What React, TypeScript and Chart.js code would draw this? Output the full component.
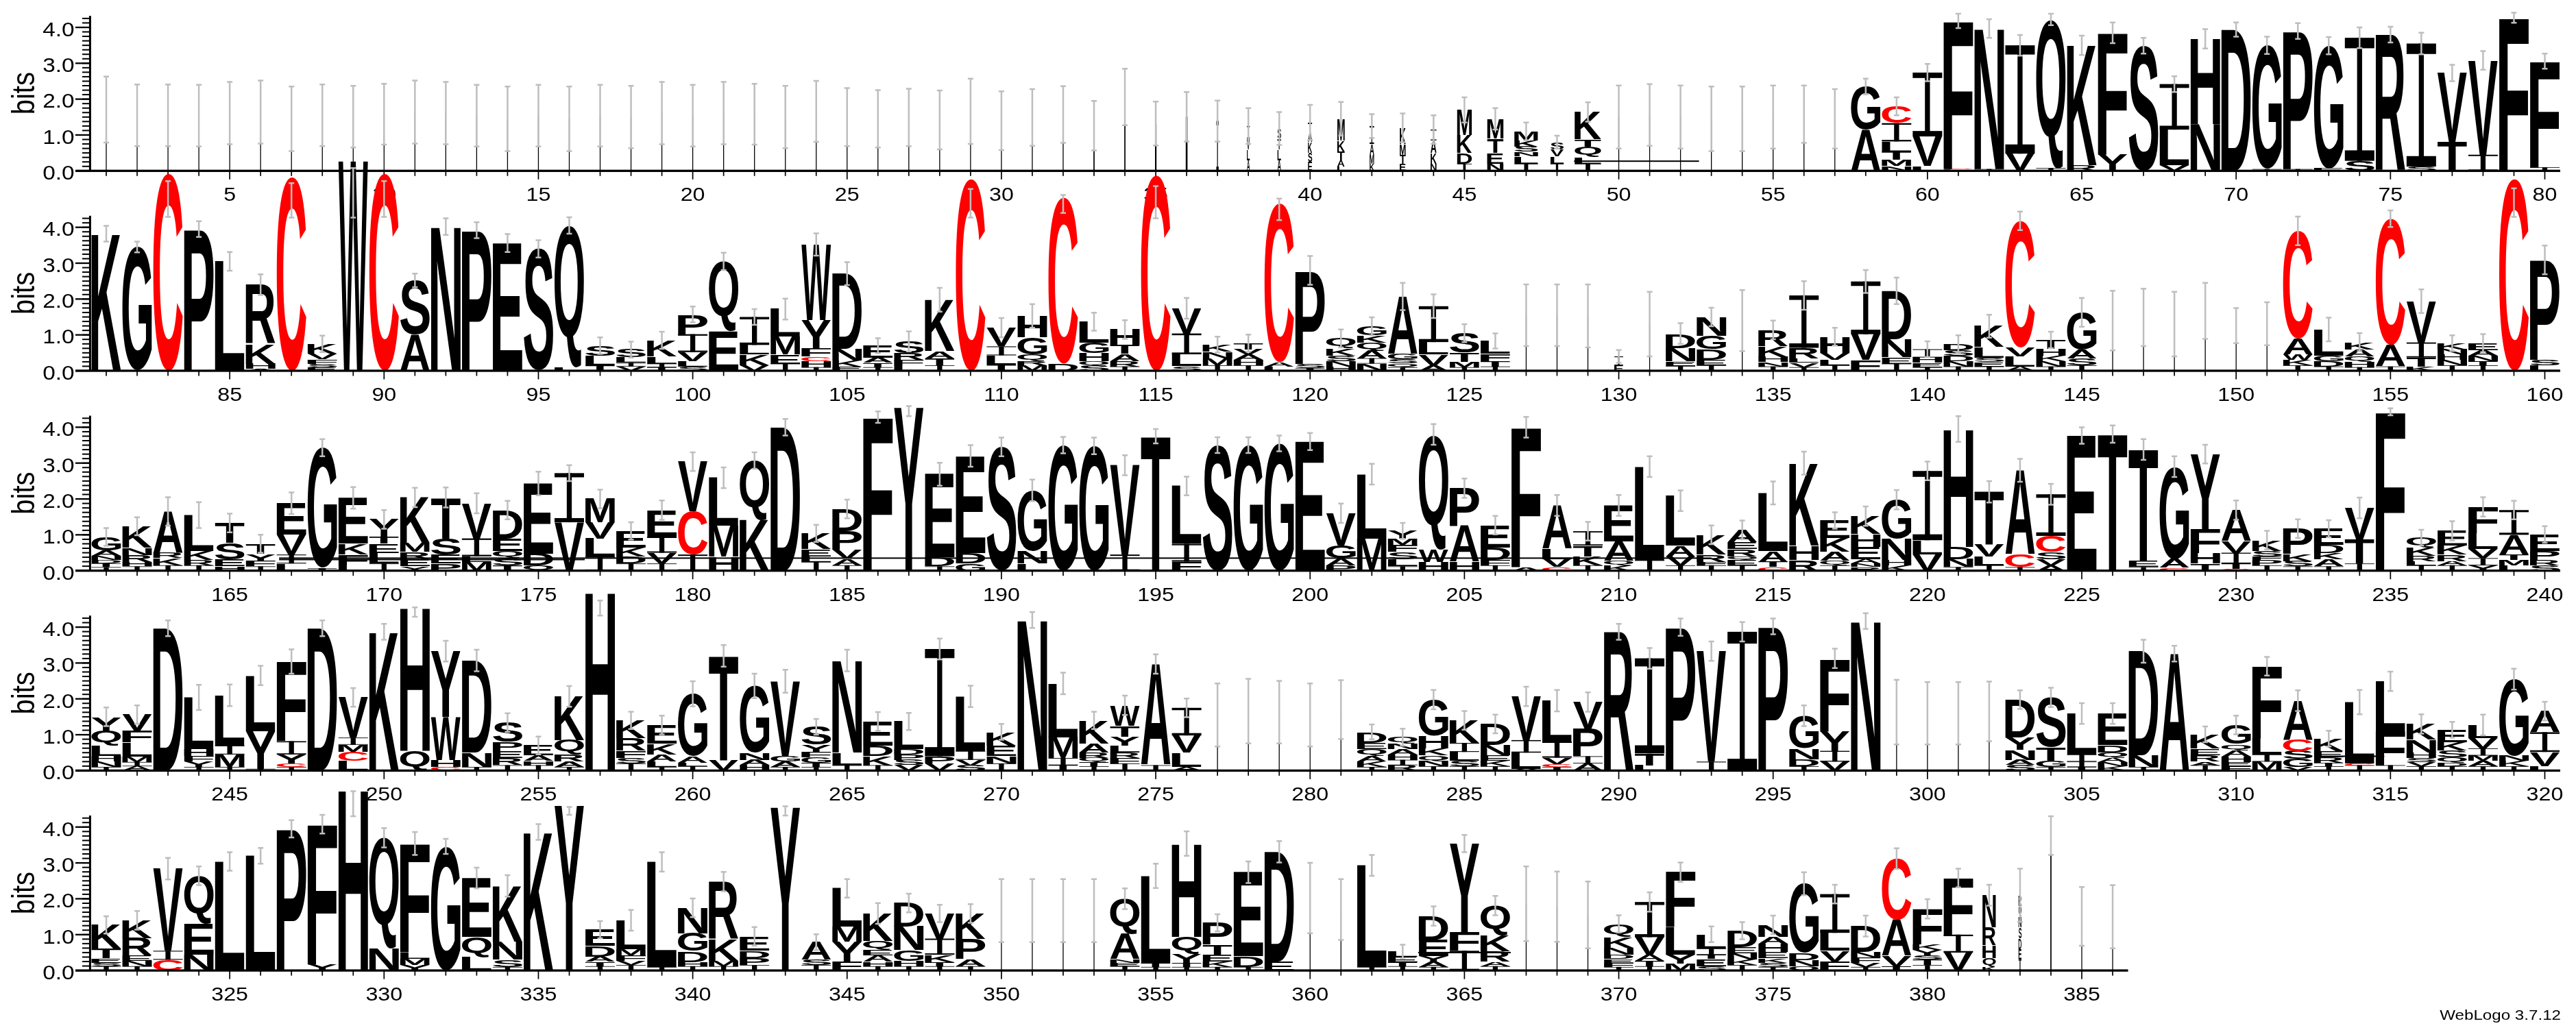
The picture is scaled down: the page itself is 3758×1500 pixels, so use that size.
import React, { useEffect, useRef } from "react";
import { Chart, registerables } from "chart.js";

Chart.register(...registerables);

// ---------------- DATA ----------------
// Each entry is one sequence position. Format: [wF:]L1h1 L2h2 .../err[@centre]
//   letters bottom-to-top with their height in bits, wF = stack width fraction,
//   err = error-bar half length (bits), centre defaults to the stack top.
const ROW1_STACKS = [
  "w.03:I1.71/0.92", "w.03:I1.55/0.86", "w.03:I1.55/0.86", "w.03:I1.54/0.86", "w.03:I1.61/0.87",
  "w.03:I1.64/0.88", "w.03:I1.45/0.9", "w.03:I1.55/0.86", "w.03:I1.51/0.86", "w.03:I1.58/0.85",
  "w.03:I1.64/0.88", "w.03:I1.61/0.87", "w.03:I1.54/0.86", "w.03:I1.45/0.9", "w.03:I1.54/0.86",
  "w.03:I1.45/0.9", "w.03:I1.54/0.86", "w.03:I1.5/0.87", "w.03:I1.61/0.87", "w.03:I1.54/0.86",
  "w.03:I1.61/0.87", "w.03:I1.58/0.85", "w.03:I1.5/0.87", "w.03:I1.66/0.85", "w.03:I1.5/0.81",
  "w.03:I1.45/0.8", "w.03:I1.49/0.8", "w.03:I1.42/0.82", "w.03:I1.66/0.91", "w.03:I1.4/0.82",
  "w.03:I1.49/0.79", "w.03:I1.57/0.79", "w.04:I1.26/0.69", "w.04:I2.06/0.79", "w.05:I1.32/0.61",
  "w.06:I1.51/0.69", "w.08:I1.39/0.57", "w.1:A0.3 L0.3 V0.3 I0.35/0.5", "w.12:A0.3 L0.3 T0.3 S0.28/0.46", "w.14:E0.25 S0.25 K0.3 A0.3 T0.25/0.49",
  "w.25:L0.12 A0.18 T0.25 K0.3 M0.6/0.47", "w.15:K0.2 M0.25 A0.3 I0.5/0.33", "w.2:E0.2 T0.25 M0.3 K0.45/0.4", "w.2:N0.2 K0.3 A0.35 I0.3/0.4", "w.5:I0.2 D0.3 K0.5 M0.7/0.35",
  "w.55:N0.2 E0.3 T0.4 M0.55/0.3", "w.8:I0.2 L0.2 N0.13 S0.15 K0.17 M0.25/0.25", "w.45:I0.2 L0.2 V0.2 S0.2/0.18", "w.9:I0.2 L0.18 Q0.3 T0.2 K0.76/0.27", "w.03:I1.5/0.88",
  "w.03:I1.56/0.86", "w.03:I1.5/0.88", "w.03:I1.45/0.9", "w.03:I1.45/0.9", "w.03:I1.5/0.88",
  "w.03:I1.58/0.8", "w.03:I1.45/0.83", "A1.15 G1.2/0.22", "N0.13 M0.18 T0.22 L0.29 I0.51 C0.47/0.25", "L0.13 V0.83 I1.78/0.24",
  "C0.05 F4.13/0.2", "I0.05 N3.92/0.26", "V0.48 I3.02/0.29", "I0.08 Q4.14/0.16", "R0.15 K3.35/0.27",
  "Y0.45 F3.4/0.29", "S3.49/0.22", "V0.15 L1.0 I1.27/0.22", "N1.3 H2.38/0.27", "D3.94/0.2",
  "I0.05 G3.45/0.24", "I0.05 P3.85/0.22", "E0.06 G3.43/0.24", "S0.28 I3.43/0.29", "R3.8/0.22",
  "S0.12 I3.43/0.3", "T0.8 V1.93/0.23", "I0.45 V2.63/0.26", "F4.27/0.14", "I0.1 F2.96/0.21",
];

const ROW2_STACKS = [
  "K3.82/0.22", "G3.45/0.15", "C5.5/0.5@4.79", "P3.95/0.22", "L3.05/0.26",
  "A0.05 H0.15 K0.55 R1.65/0.29", "C5.4/0.48@4.75", "E0.1 S0.1 F0.12 V0.15 K0.28/0.23", "W5.85/0.69@4.96", "C5.5/0.5@4.79",
  "A1.02 S1.5/0.19", "N4.02/0.23", "P3.92/0.22", "E3.56/0.25", "S3.4/0.24",
  "L0.1 Q3.95/0.23", "T0.15 L0.27 S0.28/0.23", "V0.12 I0.1 L0.15 S0.22/0.22", "T0.1 I0.1 L0.2 K0.45/0.24", "S0.12 L0.15 V0.25 I0.5 P0.55/0.22",
  "E1.1 Q1.95/0.24", "V0.15 K0.3 L0.27 I0.78/0.22", "I0.2 E0.25 M0.5 L0.77/0.29", "I0.1 H0.17 C0.13 F0.22 Y0.8 W2.1/0.31", "E0.12 K0.16 N0.33 D2.1/0.32",
  "I0.1 T0.12 A0.15 E0.33/0.21", "L0.15 F0.15 R0.2 S0.32/0.28", "I0.15 T0.2 A0.2 K1.43/0.33", "C5.35/0.4@4.67", "T0.18 L0.25 I0.25 V0.52/0.27",
  "M0.15 R0.12 Q0.18 G0.48 H0.6/0.33", "D0.2 C4.63/0.25@4.65", "S0.15 Q0.12 H0.22 G0.3 L0.58/0.25", "I0.12 R0.15 A0.2 T0.25 H0.43/0.26", "C5.45/0.45@4.7",
  "S0.13 L0.33 I0.58 V0.7/0.29", "I0.15 M0.2 N0.18 K0.2/0.22", "I0.15 H0.15 A0.15 V0.15 T0.17/0.24", "L0.12 A0.12 C4.43/0.3@4.5", "T0.08 S0.12 P2.6/0.4",
  "H0.12 N0.15 S0.15 K0.2 Q0.28/0.25", "N0.2 I0.15 A0.22 Q0.22 K0.2 G0.25/0.25", "I0.1 Q0.1 S0.12 G0.15 A1.6/0.38", "A0.15 V0.3 L0.35 I1.0/0.33", "I0.1 M0.15 T0.25 S0.55/0.25",
  "I0.12 T0.15 F0.2 L0.36/0.21", "w.03:I1.55/0.86", "w.03:I1.55/0.86", "w.03:I1.53/0.88", "w.3:E0.15 I0.25/0.18",
  "w.03:I1.3/0.9", "I0.13 E0.13 N0.38 D0.4/0.29", "I0.15 E0.15 D0.3 G0.38 N0.52/0.26", "w.03:I1.4/0.85", "I0.12 N0.12 H0.15 K0.3 R0.45/0.26",
  "I0.1 V0.12 L0.12 R0.3 I1.46/0.4", "I0.15 L0.15 V0.2 H0.45/0.25", "F0.3 V0.72 I1.47/0.32", "I0.2 E0.18 N0.5 D1.35/0.37", "I0.1 E0.12 H0.15 I0.23/0.22",
  "I0.12 N0.15 D0.15 S0.15 D0.18/0.24", "I0.12 E0.12 S0.12 L0.3 K0.58/0.32", "A0.12 L0.28 V0.25 C3.53/0.26", "I0.12 N0.15 K0.15 H0.2 T0.24/0.23", "I0.15 S0.2 A0.25 G1.03/0.4",
  "w.03:I1.4/0.83", "w.03:I1.49/0.8", "w.03:I1.3/0.9", "w.03:I1.67/0.78", "w.03:I1.26/0.49",
  "w.03:I1.31/0.6", "I0.15 K0.15 W0.15 A0.45 C3.0/0.4", "I0.12 D0.15 G0.15 L0.73/0.33", "I0.1 H0.15 Q0.15 A0.2 K0.2/0.25", "I0.12 A0.6 C3.52/0.23",
  "K0.12 T0.25 I0.42 V1.15/0.33", "I0.15 N0.15 H0.15 N0.15 K0.17/0.22", "I0.15 T0.12 N0.15 A0.15 E0.2/0.25", "C5.35/0.4@4.69", "L0.15 S0.15 P2.79/0.4",
];

const ROW3_STACKS = [
  "I0.1 T0.1 D0.1 N0.12 A0.15 G0.37/0.25", "I0.12 H0.12 R0.2 N0.2 K0.6/0.25", "I0.15 K0.2 R0.15 A1.15/0.4", "I0.15 R0.15 K0.25 L1.0/0.36", "H0.12 E0.2 S0.45 T0.56/0.26",
  "I0.12 F0.15 Y0.2 T0.28/0.25", "L0.2 I0.25 V0.55 E0.88/0.3", "T0.08 G3.35/0.24", "L0.15 F0.3 K0.3 E1.28/0.3", "I0.2 L0.3 E0.25 T0.2 Y0.48/0.26",
  "Y0.12 E0.2 R0.2 M0.25 K1.27/0.27", "P0.2 E0.25 S0.45 T1.14/0.28", "M0.25 L0.15 I0.5 V0.98/0.28", "T0.15 S0.2 Q0.2 E0.35 D0.79/0.26", "Q0.15 D0.33 E1.95/0.33",
  "V1.35 I1.37/0.22", "I0.4 L0.5 V0.45 M0.65/0.26", "I0.2 D0.2 K0.25 E0.46/0.24", "I0.2 V0.3 I0.45 E0.74/0.27", "I0.45 C1.2 V1.39/0.26",
  "H0.4 M0.85 L1.34/0.29", "K1.42 Q1.65/0.23", "D4.0/0.23", "I0.25 L0.15 E0.2 K0.44/0.24", "I0.15 A0.18 V0.25 P0.52 D0.62/0.26",
  "F4.28/0.16", "Y4.55/0.14@4.45", "I0.12 D0.25 E2.32/0.32", "G0.2 D0.3 E2.7/0.3", "S3.45/0.26",
  "L0.2 N0.35 G1.69/0.3", "G3.5/0.23", "G3.48/0.23", "I0.45 V2.49/0.28", "T3.75/0.2",
  "F0.25 I0.5 L1.61/0.26", "S3.5/0.22", "G3.5/0.22", "G3.55/0.22", "E3.6/0.24",
  "P0.15 A0.2 G0.35 V0.9/0.27", "M0.9 L1.79/0.29", "I0.12 L0.2 S0.2 F0.2 M0.17 Y0.22/0.22", "H0.25 W0.35 Q3.2/0.29", "H0.25 A1.0 P1.05/0.27",
  "I0.15 F0.15 D0.35 E0.62/0.26", "A0.1 F3.9/0.29", "C0.1 V0.22 L0.3 A1.2/0.29", "I0.15 K0.25 T0.3 I0.4/0.26", "K0.15 Q0.12 A0.55 E1.0/0.29",
  "I0.3 L2.6/0.29", "I0.15 V0.25 A0.3 L1.4/0.29@1.95", "I0.15 F0.1 R0.2 K0.55/0.26", "I0.15 E0.15 Q0.1 R0.2 E0.2 A0.34/0.26", "C0.1 T0.15 A0.3 L1.62/0.32",
  "R0.3 H0.4 K2.3/0.32", "I0.15 Q0.12 A0.25 K0.4 E0.48/0.23", "R0.1 N0.1 A0.12 E0.35 H0.35 K0.5/0.27", "K0.15 H0.15 N0.6 G1.08/0.27", "V0.45 L0.4 I1.93/0.26",
  "I0.1 N0.22 D0.35 H3.28/0.36", "I0.15 L0.25 V0.33 T1.47/0.3", "I0.1 C0.35 A2.35/0.32", "A0.15 V0.17 S0.2 C0.45 I1.16/0.29", "E3.77/0.23",
  "T3.81/0.24", "I0.1 E0.18 T3.1/0.29", "C0.08 A0.25 G2.57/0.29", "T0.2 H0.3 F0.65 Y2.1/0.26", "C0.05 T0.15 I0.3 V0.32 A0.87/0.27",
  "I0.15 P0.15 F0.1 S0.15 K0.3/0.26", "I0.12 S0.15 K0.2 P0.7/0.26", "I0.12 A0.2 K0.18 D0.22 E0.45/0.24", "I0.2 T0.65 V0.9/0.29", "F4.43/0.1",
  "I0.15 L0.12 R0.15 K0.22 Q0.28/0.22", "I0.15 A0.12 R0.18 K0.25 E0.41/0.27", "Y0.15 I0.2 V0.25 L0.45 F0.73/0.27", "L0.15 M0.15 T0.15 A0.55 I0.69/0.26", "S0.15 R0.15 P0.25 E0.46/0.23",
];

const ROW4_STACKS = [
  "I0.1 N0.15 H0.15 L0.3 Q0.4 Y0.4/0.26", "A0.12 I0.12 M0.15 L0.4 F0.32 V0.45/0.26", "D3.97/0.22", "I0.1 Y0.15 F0.15 H0.2 L1.44/0.35", "I0.1 M0.35 I0.25 L1.4/0.3",
  "I0.05 Y1.05 L1.55/0.27", "I0.1 C0.1 Y0.25 I0.37 F2.22/0.34", "D3.97/0.22", "L0.27 C0.25 M0.2 I0.2 V1.12/0.26", "K3.87/0.22",
  "Q0.55 H4.0/0.13@4.42", "C0.1 H0.2 W1.2 Y1.83/0.29", "I0.1 N0.4 D2.57/0.3", "I0.15 R0.2 E0.2 P0.25 S0.54/0.26", "I0.15 H0.12 A0.15 E0.28/0.25",
  "I0.1 A0.15 R0.2 Q0.4 K1.22/0.29", "H4.98/0.21@4.53", "I0.2 S0.15 F0.2 R0.35 K0.5/0.24", "I0.1 L0.15 A0.2 K0.3 E0.52/0.26", "I0.12 L0.1 A0.18 G1.74/0.35",
  "V0.3 T2.9/0.3", "H0.15 A0.15 N0.2 G1.86/0.34", "I0.1 A0.15 G0.15 V2.09/0.32", "I0.1 T0.12 G0.15 F0.15 Y0.2 S0.5/0.22", "I0.15 L0.35 N2.57/0.3",
  "I0.15 K0.25 D0.3 E0.67/0.26", "V0.15 S0.15 P0.15 D0.15 L0.77/0.24", "V0.2 P0.2 I2.99/0.29", "S0.15 V0.15 I0.25 L1.52/0.3", "I0.2 N0.2 E0.3 K0.38/0.22",
  "N4.2/0.22", "T0.15 I0.2 M0.58 L1.5/0.3", "I0.12 T0.12 Q0.12 R0.15 A0.25 K0.64/0.24", "I0.2 F0.15 R0.15 L0.2 Y0.25 T0.3 W0.57/0.27", "I0.15 A2.82/0.27",
  "A0.1 L0.4 V0.48 I0.77/0.26", "w.03:I1.55/0.88", "w.03:I1.66/0.9", "w.03:I1.63/0.87", "w.03:I1.55/0.88",
  "w.03:I1.7/0.82", "I0.1 K0.15 A0.15 Q0.2 E0.18 D0.3/0.21", "R0.15 I0.15 H0.15 A0.15 N0.15 Q0.18/0.24", "I0.12 N0.15 Q0.15 K0.2 H0.35 G1.01/0.27", "I0.12 S0.15 L0.25 I0.25 K0.63/0.26",
  "I0.12 K0.15 E0.15 N0.3 D0.58/0.26", "V0.05 L0.45 I0.35 V1.22/0.27", "T0.1 C0.08 V0.18 I0.45 L1.14/0.3", "A0.2 I0.2 P0.75 V0.76/0.27", "R3.87/0.22",
  "L0.15 T0.33 I2.65/0.29", "P4.0/0.24", "I0.25 V3.08/0.27", "I3.87/0.27", "P4.02/0.22",
  "I0.12 D0.2 N0.3 G0.91/0.29", "V0.25 I0.3 Y0.55 F2.03/0.27", "N4.17/0.22", "w.03:I1.63/0.9", "w.03:I1.6/0.87",
  "w.03:I1.6/0.87", "w.03:I1.65/0.83", "S0.15 A0.15 N0.28 Y0.35 D1.05/0.26", "I0.1 G0.18 T0.38 S1.38/0.27", "T0.1 I0.15 I0.2 L1.14/0.29",
  "K0.12 N0.12 A0.12 Q0.15 D0.2 E0.88/0.29", "I0.1 N0.32 D2.91/0.32", "A3.26/0.22", "I0.15 A0.1 R0.18 E0.18 K0.4/0.22", "F0.12 E0.12 H0.15 A0.18 Q0.17 G0.53/0.26",
  "M0.25 I0.2 L0.45 F2.01/0.26", "V0.1 G0.22 S0.22 C0.32 A1.09/0.29", "I0.12 T0.1 R0.15 E0.18 K0.34/0.22", "I0.15 C0.05 L1.71/0.34", "I0.15 F0.95 L1.39/0.27",
  "I0.12 V0.12 S0.12 H0.15 N0.35 K0.44/0.27", "I0.12 D0.1 Q0.15 S0.2 K0.22 E0.35/0.22", "I0.12 A0.15 M0.15 I0.2 V0.28 L0.37/0.29", "I0.12 K0.15 N0.15 G2.13/0.29", "L0.12 V0.4 I0.55 A0.59/0.26",
];

const ROW5_STACKS = [
  "I0.12 S0.1 E0.12 T0.28 K0.65/0.24", "I0.12 N0.15 E0.15 R0.48 K0.5/0.26", "C0.3 I0.25 V2.29/0.3", "N0.45 E0.85 Q1.34/0.26", "L3.04/0.26",
  "L3.2/0.22", "P3.95/0.24", "Y0.17 F3.91/0.26", "H5.04/0.35@4.65", "N0.62 Q3.08/0.27",
  "Y0.15 M0.17 L0.18 F3.04/0.32", "G3.46/0.21", "L0.38 Q0.55 E1.65/0.29", "I0.1 S0.2 N0.5 K1.56/0.3", "K3.86/0.22",
  "Y4.6/0.11@4.45", "I0.12 T0.12 A0.15 D0.3 E0.45/0.24", "I0.15 V0.12 F0.15 M0.18 L0.8/0.29", "I0.1 L2.93/0.27", "I0.12 H0.12 D0.3 G0.5 N0.71/0.26",
  "I0.12 M0.15 K0.6 R1.61/0.27", "I0.15 P0.2 D0.2 E0.4/0.26", "Y4.55/0.13@4.45", "I0.15 S0.15 A0.49/0.22", "F0.25 Y0.55 M0.42 L1.07/0.26",
  "I0.12 H0.12 A0.18 E0.15 Q0.25 K0.77/0.29", "I0.12 H0.15 G0.3 N0.65 D0.66/0.26", "I0.12 T0.12 K0.2 I0.45 V0.7/0.24", "I0.12 A0.2 P0.57 K0.7/0.26", "w.03:I1.67/0.88",
  "w.03:I1.67/0.88", "w.03:I1.67/0.88", "w.03:I1.67/0.88", "I0.12 E0.1 N0.1 A0.7 Q0.98/0.29", "I0.1 T0.12 L2.42/0.34",
  "I0.1 T0.12 Y0.25 Q0.47 H2.6/0.34", "I0.1 K0.15 E0.2 T0.27 P0.61/0.24", "I0.1 D0.3 E2.34/0.3", "E0.25 D3.06/0.3", "w.03:I2.02/0.98",
  "w.03:I1.7/0.85", "I0.1 L2.83/0.29", "I0.12 T0.12 E0.15 L0.14/0.19", "I0.1 A0.15 Y0.15 E0.45 D0.67/0.27", "I0.55 F0.52 Y2.47/0.24",
  "I0.12 A0.12 R0.3 K0.45 Q0.82/0.27", "w.03:I1.86/1.04", "w.03:I1.78/0.98", "w.03:I1.55/0.93", "I0.1 F0.12 E0.1 D0.12 N0.2 K0.3 Q0.36/0.24",
  "I0.12 T0.15 A0.18 V0.48 I0.98/0.27", "M0.2 Y0.25 L0.75 F1.54/0.27", "S0.12 E0.2 T0.12 I0.17 L0.4/0.22", "I0.15 K0.15 N0.18 E0.18 D0.45/0.24", "I0.1 S0.12 K0.12 E0.18 H0.22 A0.2 N0.33/0.26",
  "Q0.12 N0.17 D0.2 G1.93/0.32", "F0.25 V0.3 L0.5 I1.08/0.26", "I0.1 V0.12 F0.15 N0.15 D0.72/0.29", "T0.12 V0.3 A1.0 C1.7/0.29", "I0.15 T0.15 S0.13 Y0.15 K0.15 F0.99/0.27",
  "V0.5 I0.5 F1.58/0.26", "w.45:K0.1 Q0.25 H0.35 R0.5 N0.9/0.29", "w.1:I0.3 E0.3 D0.3 S0.3 N0.3 Q0.3 R0.3/0.74", "w.04:I3.76/0.54", "w.03:I1.51/0.82",
  "w.03:I1.5/0.88",
];

// Rendering artefacts of near-zero-height glyphs: [from position, to position, height in bits]
const SMEAR_LINES = [
  [48.55, 52.6, 0.27],
  [166.6, 213.0, 0.35],
  [166.6, 176.5, 0.31],
  [312.6, 314.8, 0.4],
  [363.5, 366.5, 0.5],
];

const ROWS = [ROW1_STACKS, ROW2_STACKS, ROW3_STACKS, ROW4_STACKS, ROW5_STACKS];
const ROW_STARTS = [1, 81, 161, 241, 321];
const LAST_POSITION = 386;
const POSITIONS_PER_ROW = 80;
const X_TICK_STEP = 5;
const Y_TICK_VALUES = [0, 1, 2, 3, 4];
const Y_MINOR_STEP = 0.125;
const MAX_BITS = 4.3219;
const Y_TITLE = "bits";
const FOOTER = "WebLogo 3.7.12";

// ---------------- LAYOUT / STYLE ----------------
const PAGE_W = 3758;
const PAGE_H = 1500;
const BASE0 = 249.3;
const ROW_STEP = 291.7;
const PX_PER_BIT = 52.33;
const ABOVE = 330;
const BELOW = 90;
const PLOT_RIGHT = 3735;
const PLOT_LEFT = 132.5;
const AXIS_EXT_LEFT = 110;
const TEXT_STRETCH = 1.15;
const FONT = '"Liberation Sans", Arial, Helvetica, sans-serif';
const GLYPH_FONT = 'bold 200px "Liberation Sans", Arial, Helvetica, sans-serif';
const ERR_COLOR = "rgb(190,190,190)";
const LETTER_FILL = 0.955;

type Letter = { ch: string; h: number };
type Stack = { w: number; letters: Letter[]; total: number; e: number; c: number };

function parseStack(s: string): Stack {
  let w = 1;
  let rest = s;
  if (rest.startsWith("w")) {
    const i = rest.indexOf(":");
    w = parseFloat(rest.slice(1, i));
    rest = rest.slice(i + 1);
  }
  const [lettersPart, errPart] = rest.split("/");
  const letters = lettersPart
    .trim()
    .split(/\s+/)
    .map((t) => ({ ch: t[0], h: parseFloat(t.slice(1)) }));
  const total = letters.reduce((a, l) => a + l.h, 0);
  let e = 0;
  let c = total;
  if (errPart) {
    const [ee, cc] = errPart.split("@");
    e = parseFloat(ee);
    if (cc) c = parseFloat(cc);
  }
  return { w, letters, total, e, c };
}

const glyphCache = new Map<string, { l: number; r: number; a: number; d: number }>();
function glyphBox(ctx: CanvasRenderingContext2D, ch: string) {
  let g = glyphCache.get(ch);
  if (!g) {
    ctx.save();
    ctx.font = GLYPH_FONT;
    const m = ctx.measureText(ch);
    ctx.restore();
    g = { l: m.actualBoundingBoxLeft, r: m.actualBoundingBoxRight, a: m.actualBoundingBoxAscent, d: m.actualBoundingBoxDescent };
    glyphCache.set(ch, g);
  }
  return g;
}

function drawLetter(ctx: CanvasRenderingContext2D, ch: string, x0: number, yTop: number, w: number, h: number) {
  if (h < 0.2) return;
  ctx.fillStyle = ch === "C" ? "#FF0000" : "#000000";
  if (w < 3) {
    ctx.fillRect(x0, yTop, Math.max(w, 1.2), h);
    return;
  }
  if (ch === "I") {
    // serifed I-beam, as in the logo font
    const cap = Math.min(Math.max(h * 0.085, 0.8), h / 3);
    ctx.fillRect(x0, yTop, w, cap);
    ctx.fillRect(x0, yTop + h - cap, w, cap);
    const sw = Math.max(w * 0.17, 1.2);
    ctx.fillRect(x0 + (w - sw) / 2, yTop, sw, h);
    return;
  }
  const g = glyphBox(ctx, ch);
  ctx.save();
  ctx.translate(x0, yTop);
  ctx.scale(w / (g.l + g.r), h / (g.a + g.d));
  ctx.font = GLYPH_FONT;
  ctx.textAlign = "left";
  ctx.textBaseline = "alphabetic";
  ctx.fillText(ch, g.l, g.a);
  ctx.restore();
}

function stretchedText(ctx: CanvasRenderingContext2D, text: string, x: number, y: number, size: number, align: CanvasTextAlign, rotate = false) {
  ctx.save();
  ctx.translate(x, y);
  ctx.scale(TEXT_STRETCH, 1);
  if (rotate) ctx.rotate(-Math.PI / 2);
  ctx.font = `${size}px ${FONT}`;
  ctx.textAlign = align;
  ctx.textBaseline = "alphabetic";
  ctx.fillStyle = "#000";
  ctx.fillText(text, 0, 0);
  ctx.restore();
}

function makeLogoPlugin(row: number, stacks: Stack[], start: number, last: number, footerY: number | null) {
  return {
    id: "logo" + row,
    afterDraw(chart: any) {
      const ctx: CanvasRenderingContext2D = chart.ctx;
      const xs = chart.scales.x;
      const ys = chart.scales.y;
      const step = xs.getPixelForValue(start + 1) - xs.getPixelForValue(start);
      const base = ys.getPixelForValue(0);
      const topPx = ys.getPixelForValue(MAX_BITS);
      ctx.save();

      // letters
      stacks.forEach((s, i) => {
        const cx = xs.getPixelForValue(start + i);
        const w = step * LETTER_FILL * s.w;
        let acc = 0;
        for (const L of s.letters) {
          const yb = ys.getPixelForValue(acc);
          const yt = ys.getPixelForValue(acc + L.h);
          drawLetter(ctx, L.ch, cx - w / 2, yt, w, yb - yt);
          acc += L.h;
        }
      });

      // artefact lines
      ctx.fillStyle = "#000";
      for (const [a, b, v] of SMEAR_LINES) {
        if (b < start - 0.5 || a > last + 0.5) continue;
        const x1 = xs.getPixelForValue(a);
        const x2 = xs.getPixelForValue(b);
        ctx.fillRect(x1, ys.getPixelForValue(v) - 1, x2 - x1, 2);
      }

      // error bars
      ctx.strokeStyle = ERR_COLOR;
      ctx.lineWidth = 2.5;
      ctx.lineCap = "butt";
      stacks.forEach((s, i) => {
        if (!(s.e > 0)) return;
        const cx = xs.getPixelForValue(start + i);
        const ylo = ys.getPixelForValue(Math.max(0, s.c - s.e));
        const yhi = ys.getPixelForValue(s.c + s.e);
        ctx.beginPath();
        ctx.moveTo(cx, ylo);
        ctx.lineTo(cx, yhi);
        ctx.moveTo(cx - 4, ylo);
        ctx.lineTo(cx + 4, ylo);
        ctx.moveTo(cx - 4, yhi);
        ctx.lineTo(cx + 4, yhi);
        ctx.stroke();
      });

      // axes
      ctx.fillStyle = "#000";
      const right = xs.getPixelForValue(last + 0.5);
      ctx.fillRect(AXIS_EXT_LEFT, base - 1.65, right - AXIS_EXT_LEFT, 3.3);
      const left = chart.chartArea.left;
      ctx.fillRect(left - 2.6, topPx, 3, base - topPx);
      for (let v = 0; v <= MAX_BITS + 1e-9; v += Y_MINOR_STEP) {
        const py = ys.getPixelForValue(v);
        ctx.fillRect(left - 12.5, py - 1, 11, 2);
      }
      for (const t of ys.ticks) {
        const py = ys.getPixelForValue(t.value);
        ctx.fillRect(AXIS_EXT_LEFT, py - 1.15, left - AXIS_EXT_LEFT - 1, 2.3);
        stretchedText(ctx, t.value.toFixed(1), 108.5, py + 12.8, 29, "right");
      }
      for (let p = start; p <= last; p++) {
        const px = xs.getPixelForValue(p);
        const major = p % X_TICK_STEP === 0;
        ctx.fillRect(px - 0.85, base, 1.7, major ? 12.5 : 7.5);
      }
      for (const t of xs.ticks) {
        const px = xs.getPixelForValue(t.value);
        stretchedText(ctx, String(t.value), px, base + 44, 28, "center");
      }
      stretchedText(ctx, Y_TITLE, 50, (base + topPx) / 2, 40, "center", true);
      if (footerY !== null) {
        stretchedText(ctx, FOOTER, 3736, footerY, 21, "right");
      }
      ctx.restore();
    },
  };
}

function LogoRow({ row }: { row: number }) {
  const ref = useRef<HTMLCanvasElement>(null);
  const base = BASE0 + row * ROW_STEP;
  const top = Math.round(base) - ABOVE;
  useEffect(() => {
    const canvas = ref.current;
    if (!canvas) return;
    const localBase = base - top;
    const start = ROW_STARTS[row];
    const stacks = ROWS[row].map(parseStack);
    const last = Math.min(start + POSITIONS_PER_ROW - 1, LAST_POSITION);
    const xTicks: number[] = [];
    for (let p = start; p <= last; p++) if (p % X_TICK_STEP === 0) xTicks.push(p);
    const footerY = row === ROWS.length - 1 ? 1488 - top : null;
    const chart = new Chart(canvas, {
      type: "scatter",
      data: {
        datasets: [
          {
            data: stacks.map((s, i) => ({ x: start + i, y: s.total })),
            pointRadius: 0,
            pointHoverRadius: 0,
            showLine: false,
          },
        ],
      },
      options: {
        responsive: false,
        animation: false,
        devicePixelRatio: 1,
        events: [],
        layout: { padding: { top: localBase - MAX_BITS * PX_PER_BIT, left: 0, right: PAGE_W - PLOT_RIGHT, bottom: 0 } },
        plugins: { legend: { display: false }, tooltip: { enabled: false }, title: { display: false } },
        scales: {
          x: {
            type: "linear",
            position: "bottom",
            min: start - 0.5,
            max: start + POSITIONS_PER_ROW - 0.5,
            grid: { display: false },
            border: { display: false },
            ticks: { display: false },
            afterBuildTicks: (s: any) => {
              s.ticks = xTicks.map((v) => ({ value: v }));
            },
            afterFit: (s: any) => {
              s.height = ABOVE + BELOW - localBase;
            },
          },
          y: {
            type: "linear",
            position: "left",
            min: 0,
            max: MAX_BITS,
            grid: { display: false },
            border: { display: false },
            ticks: { display: false },
            afterBuildTicks: (s: any) => {
              s.ticks = Y_TICK_VALUES.map((v) => ({ value: v }));
            },
            afterFit: (s: any) => {
              s.width = PLOT_LEFT;
            },
          },
        },
      } as any,
      plugins: [makeLogoPlugin(row, stacks, start, last, footerY)],
    });
    return () => chart.destroy();
  }, [row]);
  return (
    <canvas
      ref={ref}
      width={PAGE_W}
      height={ABOVE + BELOW}
      style={{ position: "absolute", left: 0, top, width: PAGE_W, height: ABOVE + BELOW }}
    />
  );
}

export default function App() {
  return (
    <div style={{ position: "absolute", left: 0, top: 0, width: PAGE_W, height: PAGE_H, overflow: "hidden", background: "#fff" }}>
      {ROWS.map((_, i) => (
        <LogoRow key={i} row={i} />
      ))}
    </div>
  );
}
